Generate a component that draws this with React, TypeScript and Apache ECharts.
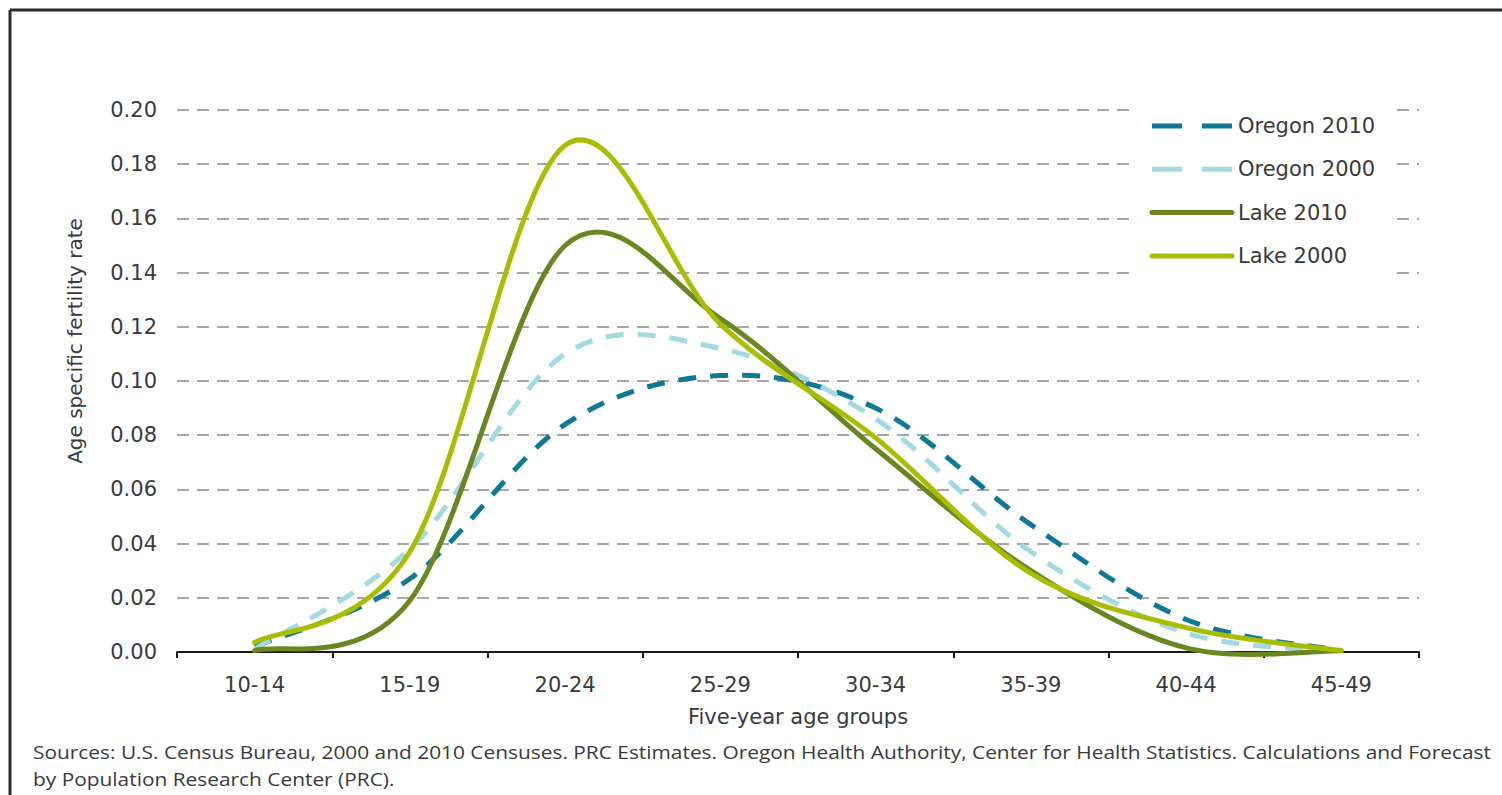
import React, { useEffect, useRef } from "react";
import * as echarts from "echarts";

const categories = ["10-14", "15-19", "20-24", "25-29", "30-34", "35-39", "40-44", "45-49"];
const oregon2010 = [0.002, 0.027, 0.084, 0.102, 0.09, 0.047, 0.012, 0.0005];
const oregon2000 = [0.001, 0.038, 0.11, 0.112, 0.086, 0.037, 0.007, 0.0005];
const lake2010 = [0.0005, 0.019, 0.15, 0.123, 0.075, 0.03, 0.0015, 0.0005];
const lake2000 = [0.0035, 0.037, 0.187, 0.121, 0.079, 0.029, 0.009, 0.0005];

const seriesNames = ["Oregon 2010", "Oregon 2000", "Lake 2010", "Lake 2000"];
const seriesColors = ["#0f7895", "#a3d9e1", "#6a8620", "#a9bd00"];
const seriesDashed = [true, true, false, false];

const yTicksMin = 0;
const yTicksMax = 0.2;
const yTickStep = 0.02;

const sourceLines = [
  "Sources: U.S. Census Bureau, 2000 and 2010 Censuses. PRC Estimates. Oregon Health Authority, Center for Health Statistics. Calculations and Forecast",
  "by Population Research Center (PRC).",
];

const TEXT = "#3a3a3a";
const FONT = "DejaVu Sans";

export default function App() {
  const ref = useRef<HTMLDivElement>(null);
  useEffect(() => {
    if (!ref.current) return;
    const chart = echarts.init(ref.current, undefined, { renderer: "svg" });
    const allData = [oregon2010, oregon2000, lake2010, lake2000];

    // Smoothed line (Catmull-Rom style, like spreadsheet "smoothed line") drawn through
    // the data points as positioned by the chart's own axes.
    const series = seriesNames.map((name, si) => {
      const values = allData[si];
      return {
        name,
        type: "custom",
        coordinateSystem: "cartesian2d",
        data: values.map((v, i) => [i, v]),
        encode: { x: 0, y: 1 },
        z: seriesDashed[si] ? 2 : 3,
        renderItem: (params: any, api: any) => {
          if (params.dataIndex !== 0) return null;
          const pts = values.map((v, i) => api.coord([i, v]));
          const n = pts.length;
          let d = `M${pts[0][0]},${pts[0][1]}`;
          for (let i = 0; i < n - 1; i++) {
            const p0 = pts[Math.max(i - 1, 0)];
            const p1 = pts[i];
            const p2 = pts[i + 1];
            const p3 = pts[Math.min(i + 2, n - 1)];
            const c1x = p1[0] + (p2[0] - p0[0]) / 6;
            const c1y = p1[1] + (p2[1] - p0[1]) / 6;
            const c2x = p2[0] - (p3[0] - p1[0]) / 6;
            const c2y = p2[1] - (p3[1] - p1[1]) / 6;
            d += ` C${c1x},${c1y} ${c2x},${c2y} ${p2[0]},${p2[1]}`;
          }
          return {
            type: "path",
            shape: { pathData: d },
            style: {
              fill: "none",
              stroke: seriesColors[si],
              lineWidth: 5,
              lineDash: seriesDashed[si] ? [18, 14] : null,
              lineCap: seriesDashed[si] ? "butt" : "round",
              lineJoin: "round",
            },
          };
        },
      };
    });

    const legendLeft = 1133;
    const legendTop = 103;
    const rowY0 = 126;
    const rowStep = 43.3;
    const legendGraphics: any[] = [
      {
        type: "rect",
        z: 10,
        silent: true,
        shape: { x: legendLeft, y: legendTop, width: 259, height: 172 },
        style: { fill: "#ffffff" },
      },
    ];
    seriesNames.forEach((name, i) => {
      const y = rowY0 + i * rowStep;
      legendGraphics.push({
        type: "line",
        z: 11,
        silent: true,
        shape: { x1: 1152, y1: y, x2: 1232, y2: y },
        style: {
          stroke: seriesColors[i],
          lineWidth: 5,
          lineDash: seriesDashed[i] ? [30, 20] : null,
          lineCap: seriesDashed[i] ? "butt" : "round",
        },
      });
      legendGraphics.push({
        type: "text",
        z: 11,
        silent: true,
        x: 1238,
        y,
        style: {
          text: name,
          fontFamily: FONT,
          fontSize: 21,
          fill: TEXT,
          align: "left",
          verticalAlign: "middle",
        },
      });
    });

    chart.setOption({
      animation: false,
      backgroundColor: "#ffffff",
      grid: { left: 177, right: 83, top: 110, bottom: 143, containLabel: false },
      xAxis: {
        type: "category",
        data: categories,
        boundaryGap: true,
        name: "Five-year age groups",
        nameLocation: "middle",
        nameGap: 54,
        nameTextStyle: { fontFamily: FONT, fontSize: 21, color: TEXT },
        axisLine: { show: true, lineStyle: { color: "#1a1a1a", width: 2 } },
        axisTick: { show: true, length: 6, lineStyle: { color: "#1a1a1a", width: 2 } },
        axisLabel: { margin: 22, fontFamily: FONT, fontSize: 21, color: TEXT },
        splitLine: { show: false },
      },
      yAxis: {
        type: "value",
        min: yTicksMin,
        max: yTicksMax,
        interval: yTickStep,
        axisLine: { show: false },
        axisTick: { show: false },
        axisLabel: {
          margin: 20,
          fontFamily: FONT,
          fontSize: 21,
          color: TEXT,
          formatter: (v: number) => v.toFixed(2),
        },
        splitLine: {
          show: true,
          lineStyle: { color: "#a6a6a6", width: 2, type: [12, 8] },
        },
      },
      series,
      graphic: [
        {
          type: "line",
          shape: { x1: 10, y1: 10, x2: 1502, y2: 10 },
          style: { stroke: "#2b2b2b", lineWidth: 3 },
          silent: true,
        },
        {
          type: "line",
          shape: { x1: 10, y1: 10, x2: 10, y2: 795 },
          style: { stroke: "#2b2b2b", lineWidth: 3 },
          silent: true,
        },
        {
          type: "text",
          x: 75,
          y: 341,
          rotation: Math.PI / 2,
          style: {
            text: "Age specific fertility rate",
            fontFamily: FONT,
            fontSize: 20,
            fill: TEXT,
            align: "center",
            verticalAlign: "middle",
          },
        },
        {
          type: "text",
          x: 33,
          y: 752,
          scaleX: 1.16,
          style: {
            text: sourceLines[0],
            fontFamily: "Open Sans",
            fontSize: 18,
            fill: TEXT,
            align: "left",
            verticalAlign: "middle",
          },
        },
        {
          type: "text",
          x: 33,
          y: 779,
          scaleX: 1.16,
          style: {
            text: sourceLines[1],
            fontFamily: "Open Sans",
            fontSize: 18,
            fill: TEXT,
            align: "left",
            verticalAlign: "middle",
          },
        },
        ...legendGraphics,
      ],
    });
    return () => chart.dispose();
  }, []);
  return (
    <div
      ref={ref}
      style={{ position: "fixed", left: 0, top: 0, width: 1502, height: 795, background: "#fff" }}
    />
  );
}
